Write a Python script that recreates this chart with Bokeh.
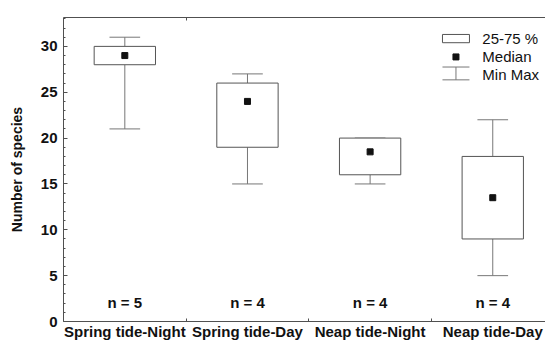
import numpy as np
from bokeh.plotting import figure
from bokeh.models import Range1d, LinearAxis, FixedTicker, SingleIntervalTicker, ColumnDataSource
from bokeh.core.properties import value
from bokeh.embed import file_html
from bokeh.resources import INLINE

# ---- data ----
categories = ["Spring tide-Night", "Spring tide-Day", "Neap tide-Night", "Neap tide-Day"]
mins = [21, 15, 15, 5]
q1 = [28, 19, 16, 9]
medians = [29, 24, 18.5, 13.5]
q3 = [30, 26, 20, 18]
maxs = [31, 27, 20, 22]
n_counts = [5, 4, 4, 4]
y_ticks = [0, 5, 10, 15, 20, 25, 30]

FONT = "Liberation Sans"
BOX_W = 0.5
CAP_W = 0.25

xs = np.arange(len(categories)) + 0.5

p = figure(width=545, height=342, output_backend="svg", toolbar_location=None,
           x_range=Range1d(0, 3.93), y_range=Range1d(0, 33.15),
           x_axis_type=None, y_axis_type=None,
           min_border_left=63, min_border_right=0, min_border_top=17, min_border_bottom=0)
p.outline_line_color = None
p.xgrid.visible = False
p.ygrid.visible = False
p.background_fill_color = "white"
p.border_fill_color = "white"

AXIS_COLOR = "#505050"

# left axis
yax = LinearAxis(ticker=FixedTicker(ticks=y_ticks, minor_ticks=list(range(0, 34))))
yax.axis_label = "Number of species"
yax.axis_label_text_font = FONT
yax.axis_label_text_font_style = "bold"
yax.axis_label_text_font_size = "14px"
yax.axis_label_text_color = "#111111"
yax.axis_label_standoff = 13
yax.major_label_text_font = FONT
yax.major_label_text_font_style = "bold"
yax.major_label_text_font_size = "15px"
yax.major_label_text_color = "#111111"
yax.major_label_standoff = 6
yax.major_tick_in = 4
yax.major_tick_out = 0
yax.minor_tick_in = 2
yax.minor_tick_out = 0
yax.axis_line_color = AXIS_COLOR
yax.major_tick_line_color = AXIS_COLOR
yax.minor_tick_line_color = AXIS_COLOR
p.add_layout(yax, "left")

# bottom axis
xticker = FixedTicker(ticks=list(xs), minor_ticks=[1, 2, 3])
xax = LinearAxis(ticker=xticker)
xax.major_label_overrides = {float(x): c for x, c in zip(xs, categories)}
xax.major_label_text_font = FONT
xax.major_label_text_font_style = "bold"
xax.major_label_text_font_size = "15px"
xax.major_label_text_color = "#111111"
xax.major_label_standoff = 1
xax.major_tick_in = 0
xax.major_tick_out = 0
xax.minor_tick_in = 3
xax.minor_tick_out = 0
xax.axis_line_color = AXIS_COLOR
xax.minor_tick_line_color = AXIS_COLOR
p.add_layout(xax, "below")

# top axis (frame line)
tax = LinearAxis(ticker=FixedTicker(ticks=[], minor_ticks=[1]))
tax.major_label_text_font_size = "0px"
tax.major_label_standoff = 0
tax.major_tick_in = 0
tax.major_tick_out = 0
tax.minor_tick_in = 3
tax.minor_tick_out = 0
tax.axis_line_color = AXIS_COLOR
tax.minor_tick_line_color = AXIS_COLOR
p.add_layout(tax, "above")

src = ColumnDataSource(dict(x=xs, lo=mins, q1=q1, med=medians, q3=q3, hi=maxs,
                            cl=xs - CAP_W / 2, cr=xs + CAP_W / 2,
                            n=[f"n = {k}" for k in n_counts]))

WH = "#777777"
p.segment(x0="x", y0="q3", x1="x", y1="hi", source=src, line_color=WH, line_width=1)
p.segment(x0="x", y0="q1", x1="x", y1="lo", source=src, line_color=WH, line_width=1)
p.segment(x0="cl", y0="hi", x1="cr", y1="hi", source=src, line_color=WH, line_width=1)
p.segment(x0="cl", y0="lo", x1="cr", y1="lo", source=src, line_color=WH, line_width=1)
p.vbar(x="x", top="q3", bottom="q1", width=BOX_W, source=src,
       fill_color="white", line_color="#555555", line_width=1)
p.scatter(x="x", y="med", source=src, marker="square", size=6,
          fill_color="#111111", line_color="#111111")
p.text(x="x", y=2.1, text="n", source=src, text_font=value(FONT), text_font_style="bold",
       text_font_size="15px", text_align="center", text_baseline="middle", text_color="#111111")

# legend (drawn in data coordinates)
lx0, lx1 = 3.09, 3.31
lxc = (lx0 + lx1) / 2
ltx = 3.415
p.quad(left=[lx0], right=[lx1], top=[31.3], bottom=[30.4], fill_color="white",
       line_color="#555555", line_width=1)
p.scatter(x=[lxc], y=[28.85], marker="square", size=6, fill_color="#111111", line_color="#111111")
p.segment(x0=[lx0, lx0, lxc], y0=[27.75, 26.35, 27.75], x1=[lx1, lx1, lxc], y1=[27.75, 26.35, 26.35],
          line_color=WH, line_width=1)
p.text(x=[ltx] * 3, y=[30.85, 28.85, 26.9], text=["25-75 %", "Median", "Min Max"],
       text_font=value(FONT), text_font_size="15px", text_baseline="middle",
       text_color="#111111")

open("out.html", "w").write(file_html(p, INLINE))
